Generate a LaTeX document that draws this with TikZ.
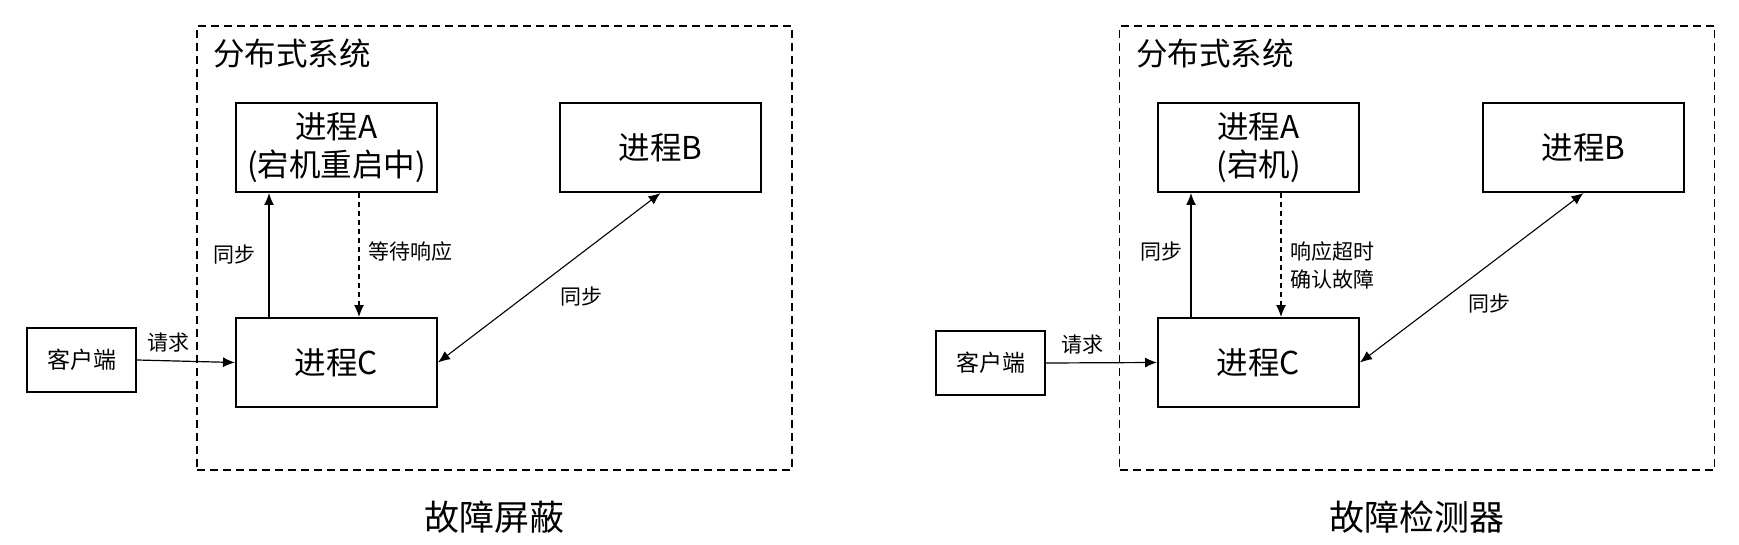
\documentclass[tikz,border=0pt]{standalone}
\usepackage{fontspec}
\setmainfont{Noto Sans CJK SC}
\usetikzlibrary{positioning, arrows.meta}
\tikzset{
  proc/.style={draw, line width=2pt, minimum width=201pt, minimum height=89pt, inner sep=0pt, align=center, font=\fontsize{31.5}{38}\selectfont},
  client/.style={draw, line width=2pt, minimum width=109pt, minimum height=64pt, inner sep=0pt, font=\fontsize{23}{28}\selectfont},
  sysbox/.style={draw, line width=1.6pt, dash pattern=on 8pt off 5pt, minimum width=595pt, minimum height=444pt, inner sep=0pt},
  systitle/.style={anchor=west, inner sep=0pt, font=\fontsize{31.5}{38}\selectfont},
  capt/.style={inner sep=0pt, font=\fontsize{35}{42}\selectfont},
  lbl/.style={inner sep=0pt, align=left, font=\fontsize{21}{28}\selectfont},
  arr/.style={-{Latex[length=12pt, width=10pt]}, line width=1.2pt},
  darr/.style={arr, dash pattern=on 5pt off 4pt},
  barr/.style={{Latex[length=12pt, width=10pt]}-{Latex[length=12pt, width=10pt]}, line width=1.1pt}
}
\begin{document}
\begin{tikzpicture}[x=1pt, y=-1pt]
\useasboundingbox (0,0) rectangle (1739,545);
% fault masking
\node[sysbox] (sysL) at (494.5,248) {};
\node[systitle] (titleL) at (213,54) {分布式系统};
\node[proc] (aL) at (336.5,147.5) {进程A\\(宕机重启中)};
\node[proc] (bL) at (660.5,147.5) {进程B};
\node[proc] (cL) at (336.5,362.5) {进程C};
\node[client] (cliL) at (81.5,360) {客户端};
\node[capt, below=30pt of sysL] (capL) {故障屏蔽};
\draw[arr] (cliL.east) -- node[lbl, pos=0.32, above=8pt] (reqL) {请求} (cL.west);
\draw[arr] ([xshift=34pt]cL.north west) -- node[lbl, left=13pt] (syncAL) {同步} ([xshift=34pt]aL.south west);
\draw[darr] ([xshift=124pt]aL.south west) -- node[lbl, right=9pt, yshift=3pt] (waitL) {等待响应} ([xshift=124pt]cL.north west);
\draw[barr] (cL.east) -- (bL.south);
\node[lbl] (syncBL) at (581,297) {同步};
% fault detector
\node[sysbox] (sysR) at (1417,248) {};
\node[systitle] (titleR) at (1136,54) {分布式系统};
\node[proc] (aR) at (1258.5,147.5) {进程A\\(宕机)};
\node[proc] (bR) at (1583.5,147.5) {进程B};
\node[proc] (cR) at (1258.5,362.5) {进程C};
\node[client] (cliR) at (990.5,363) {客户端};
\node[capt, below=30pt of sysR] (capR) {故障检测器};
\draw[arr] (cliR.east) -- node[lbl, pos=0.33, above=8pt] (reqR) {请求} (cR.west);
\draw[arr] ([xshift=34pt]cR.north west) -- node[lbl, left=8pt, yshift=3pt] (syncAR) {同步} ([xshift=34pt]aR.south west);
\draw[darr] ([xshift=124pt]aR.south west) -- node[lbl, right=9pt, yshift=-10pt] (timeoutR) {响应超时\\确认故障} ([xshift=124pt]cR.north west);
\draw[barr] (cR.east) -- (bR.south);
\node[lbl] (syncBR) at (1489,304) {同步};
\end{tikzpicture}
\end{document}
